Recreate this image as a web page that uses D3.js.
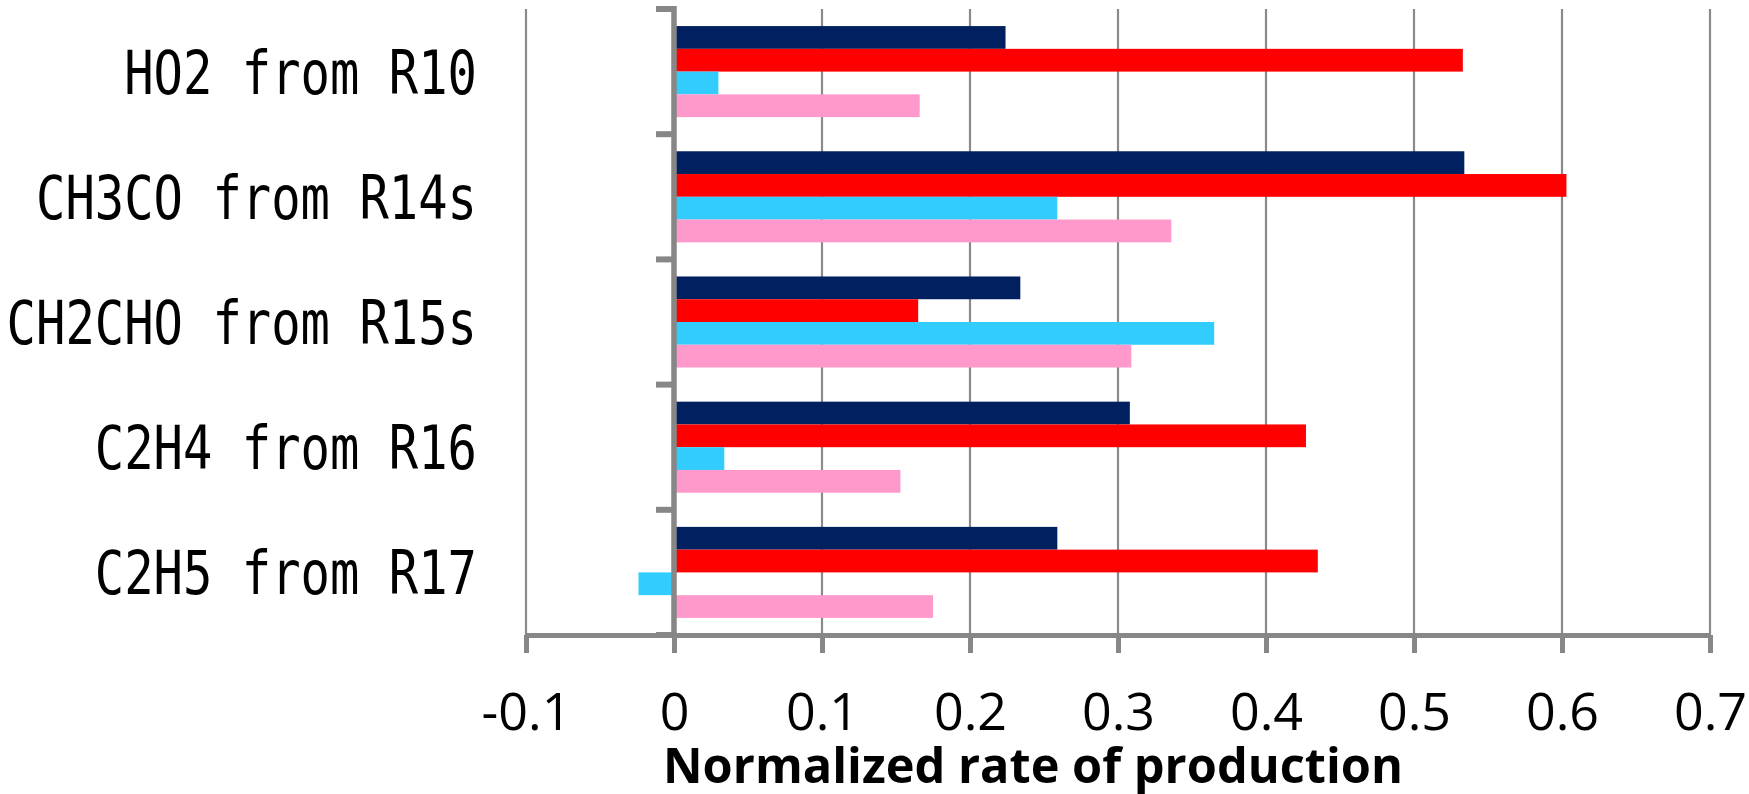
<!DOCTYPE html>
<html>
<head>
<meta charset="utf-8">
<script src="https://cdn.jsdelivr.net/npm/d3@7"></script>
<style>
  html, body { margin: 0; padding: 0; background: #fff; }
  svg { display: block; }
</style>
</head>
<body>
<svg id="chart" width="1749" height="794"></svg>
<script>
// ---- data ----
const categories = ["HO2 from R10", "CH3CO from R14s", "CH2CHO from R15s", "C2H4 from R16", "C2H5 from R17"];
const seriesNames = ["s1", "s2", "s3", "s4"];
const s1 = [0.224, 0.534, 0.234, 0.308, 0.259];
const s2 = [0.533, 0.603, 0.165, 0.427, 0.435];
const s3 = [0.030, 0.259, 0.365, 0.034, -0.024];
const s4 = [0.166, 0.336, 0.309, 0.153, 0.175];
const xTicks = [-0.1, 0, 0.1, 0.2, 0.3, 0.4, 0.5, 0.6, 0.7];
const xTickLabels = ["-0.1", "0", "0.1", "0.2", "0.3", "0.4", "0.5", "0.6", "0.7"];
const xTitle = "Normalized rate of production";

const seriesValues = [s1, s2, s3, s4];
const colors = ["#002060", "#FF0000", "#33CCFF", "#FF99CC"];

const svg = d3.select("#chart");
const plotTop = 9, plotBottom = 635;
const x = d3.scaleLinear().domain([-0.1, 0.7]).range([526, 1710]);
const y0 = d3.scaleBand().domain(categories).range([plotTop, plotBottom]).padding(0);
const y1 = d3.scaleBand().domain(seriesNames).range([0, y0.bandwidth()]).paddingInner(0).paddingOuter(0.75);
const axisColor = "#878787";

// gridlines
svg.append("g").selectAll("line").data(xTicks).join("line")
  .attr("x1", d => x(d)).attr("x2", d => x(d))
  .attr("y1", plotTop).attr("y2", plotBottom)
  .attr("stroke", "#8a8a8a").attr("stroke-width", 2.2);

// bars
const rows = [];
categories.forEach((c, i) => seriesNames.forEach((s, j) => rows.push({c, s, j, v: seriesValues[j][i]})));
svg.append("g").selectAll("rect").data(rows).join("rect")
  .attr("x", d => x(Math.min(0, d.v)))
  .attr("width", d => Math.abs(x(d.v) - x(0)))
  .attr("y", d => y0(d.c) + y1(d.s))
  .attr("height", y1.bandwidth())
  .attr("fill", d => colors[d.j]);

// x axis
const xAxis = d3.axisBottom(x).tickValues(xTicks).tickSize(18).tickSizeOuter(0)
  .tickFormat((d, i) => xTickLabels[i]).tickPadding(40);
const gx = svg.append("g").attr("transform", `translate(0,${plotBottom})`).call(xAxis);
gx.select(".domain").attr("stroke", axisColor).attr("stroke-width", 5);
gx.selectAll(".tick line").attr("stroke", axisColor).attr("stroke-width", 5);
gx.selectAll(".tick text")
  .attr("fill", "#000")
  .attr("font-family", "'Open Sans', sans-serif")
  .attr("font-size", 52)
  .attr("dy", null)
  .attr("y", 95);

// y axis (at x = 0)
const gy = svg.append("g");
const bounds = categories.map(c => y0(c)).concat([plotBottom]);
gy.append("line")
  .attr("x1", x(0)).attr("x2", x(0))
  .attr("y1", plotTop - 3).attr("y2", plotBottom)
  .attr("stroke", axisColor).attr("stroke-width", 5.5);
gy.selectAll("line.tk").data(bounds).join("line").attr("class", "tk")
  .attr("x1", x(0) - 18).attr("x2", x(0) + 2)
  .attr("y1", d => d).attr("y2", d => d)
  .attr("stroke", axisColor).attr("stroke-width", 6);

// category labels
svg.append("g").selectAll("text").data(categories).join("text")
  .attr("x", 477)
  .attr("y", d => y0(d) + y0.bandwidth() / 2 + 22)
  .attr("text-anchor", "end")
  .attr("font-family", "'DejaVu Sans Mono', 'Liberation Mono', monospace")
  .attr("font-size", 60)
  .attr("textLength", d => d.length * 29.4)
  .attr("lengthAdjust", "spacingAndGlyphs")
  .attr("fill", "#000")
  .text(d => d);

// x title
svg.append("text")
  .attr("x", 1033).attr("y", 783)
  .attr("text-anchor", "middle")
  .attr("font-family", "'Open Sans', sans-serif")
  .attr("font-weight", "bold")
  .attr("font-size", 49)
  .attr("textLength", 740)
  .attr("lengthAdjust", "spacingAndGlyphs")
  .attr("fill", "#000")
  .text(xTitle);
</script>
</body>
</html>
